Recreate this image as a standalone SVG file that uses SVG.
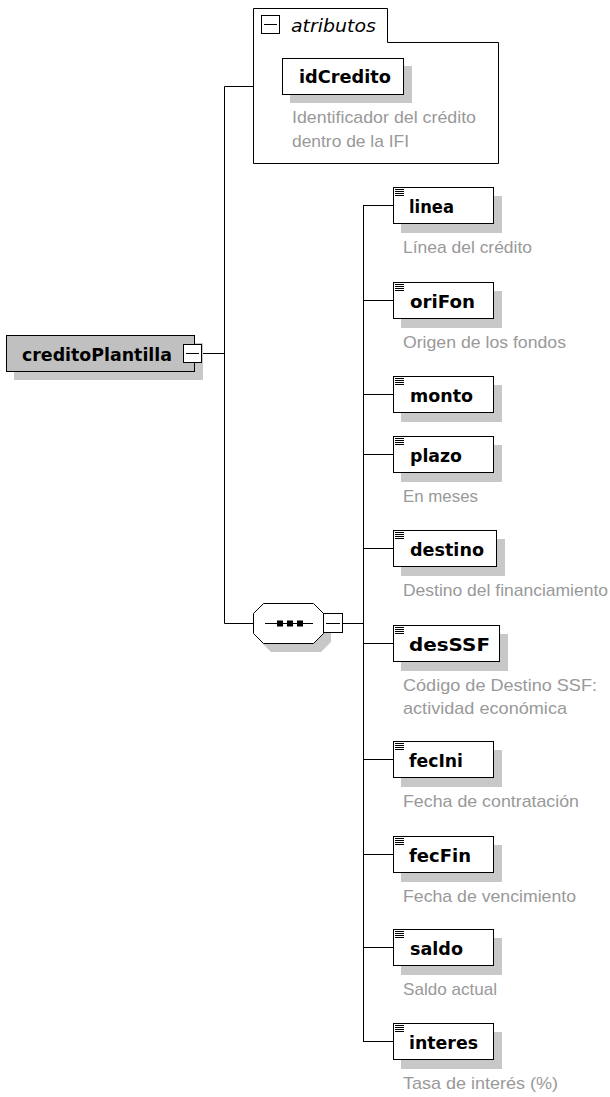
<svg xmlns="http://www.w3.org/2000/svg" width="610" height="1097" viewBox="0 0 610 1097">
<style>
.ln{fill:none;stroke:#000;stroke-width:1}
.lnf{fill:#fff;stroke:#000;stroke-width:1}
.box{fill:#fff;stroke:#000;stroke-width:1}
.sh{fill:#c8c8c8;stroke:none}
.nm{font-family:"DejaVu Sans","Liberation Sans",sans-serif;font-weight:bold;font-size:17px;fill:#000}
.ds{font-family:"Liberation Sans",Arial,sans-serif;font-size:17px;fill:#999}
.ic{stroke:#000;stroke-width:1}
.mb{fill:#fff;stroke:#000;stroke-width:1}
</style>
<defs>
<g id="icon">
<path class="ic" d="M2,2.5H11M2,4.5H11M2,6.5H11M2,8.5H11"/>
</g>
</defs>
<rect width="610" height="1097" fill="#fff"/>
<g id="connectors">
<path class="ln" d="M224.5,86.5V623.5M224.5,86.5H253.5M201,353.5H224.5M224.5,623.5H253.5M343,623.5H363.5M363.5,205V1042"/>
<path class="ln" d="M363.5,205.5H393.5M363.5,300.5H393.5M363.5,394.5H393.5M363.5,454.5H393.5M363.5,548.5H393.5M363.5,643.5H393.5M363.5,759.5H393.5M363.5,854.5H393.5M363.5,947.5H393.5M363.5,1041.5H393.5"/>
</g>
<g id="creditoPlantilla">
<rect class="sh" x="14" y="343" width="189" height="37"/>
<rect x="6.5" y="335.5" width="188" height="36" fill="#c0c0c0" stroke="#000"/>
<text class="nm" x="22" y="361" textLength="150" lengthAdjust="spacingAndGlyphs">creditoPlantilla</text>
<rect class="mb" x="183.5" y="344.5" width="18" height="18"/>
<path class="ln" d="M186,353.5H199"/>
</g>
<g id="atributos">
<path class="lnf" d="M253.5,163.5V8.5H387.5V42.5H498.5V163.5Z"/>
<rect class="mb" x="261.5" y="15.5" width="18" height="18"/>
<path class="ln" d="M264,24.5H277"/>
<text x="291" y="32" font-family="DejaVu Sans,Liberation Sans,sans-serif" font-style="italic" font-size="18" fill="#000" textLength="85" lengthAdjust="spacingAndGlyphs">atributos</text>
</g>
<g id="idCredito">
<rect class="sh" x="290" y="66" width="122" height="37"/>
<rect class="box" x="282.5" y="58.5" width="121" height="36"/>
<text class="nm" x="299" y="83" textLength="92" lengthAdjust="spacingAndGlyphs">idCredito</text>
<text class="ds" x="292" y="123" textLength="184" lengthAdjust="spacingAndGlyphs">Identificador del crédito</text>
<text class="ds" x="292" y="147" textLength="117" lengthAdjust="spacingAndGlyphs">dentro de la IFI</text>
</g>
<g id="sequence">
<path class="sh" d="M271,612H321L331,622V642L321,652H271L261,642V622Z"/>
<path class="lnf" d="M263.5,603.5H313.5L323.5,613.5V633.5L313.5,643.5H263.5L253.5,633.5V613.5Z"/>
<path class="ln" d="M265,623.5H313"/>
<rect x="277" y="620.5" width="6" height="6" fill="#000"/>
<rect x="287" y="620.5" width="6" height="6" fill="#000"/>
<rect x="297" y="620.5" width="6" height="6" fill="#000"/>
<rect class="mb" x="323.5" y="613.5" width="19" height="19"/>
<path class="ln" d="M326,623.5H340"/>
</g>
<g id="linea">
<rect class="sh" x="401" y="196" width="101" height="37"/>
<rect class="box" x="393.5" y="187.5" width="100" height="36"/>
<use href="#icon" x="393" y="187"/>
<text class="nm" x="409" y="213" textLength="45" lengthAdjust="spacingAndGlyphs">linea</text>
<text class="ds" x="403" y="253" textLength="129" lengthAdjust="spacingAndGlyphs">Línea del crédito</text>
</g>
<g id="oriFon">
<rect class="sh" x="401" y="291" width="101" height="37"/>
<rect class="box" x="393.5" y="282.5" width="100" height="36"/>
<use href="#icon" x="393" y="282"/>
<text class="nm" x="410" y="308" textLength="65" lengthAdjust="spacingAndGlyphs">oriFon</text>
<text class="ds" x="403" y="348" textLength="163" lengthAdjust="spacingAndGlyphs">Origen de los fondos</text>
</g>
<g id="monto">
<rect class="sh" x="401" y="385" width="101" height="37"/>
<rect class="box" x="393.5" y="376.5" width="100" height="36"/>
<use href="#icon" x="393" y="376"/>
<text class="nm" x="410" y="402" textLength="63" lengthAdjust="spacingAndGlyphs">monto</text>
</g>
<g id="plazo">
<rect class="sh" x="401" y="445" width="101" height="37"/>
<rect class="box" x="393.5" y="436.5" width="100" height="36"/>
<use href="#icon" x="393" y="436"/>
<text class="nm" x="410" y="462" textLength="52" lengthAdjust="spacingAndGlyphs">plazo</text>
<text class="ds" x="403" y="502" textLength="75" lengthAdjust="spacingAndGlyphs">En meses</text>
</g>
<g id="destino">
<rect class="sh" x="401" y="539" width="104" height="37"/>
<rect class="box" x="393.5" y="530.5" width="103" height="36"/>
<use href="#icon" x="393" y="530"/>
<text class="nm" x="410" y="556" textLength="74" lengthAdjust="spacingAndGlyphs">destino</text>
<text class="ds" x="403" y="596" textLength="205" lengthAdjust="spacingAndGlyphs">Destino del financiamiento</text>
</g>
<g id="desSSF">
<rect class="sh" x="401" y="634" width="107" height="37"/>
<rect class="box" x="393.5" y="625.5" width="106" height="36"/>
<use href="#icon" x="393" y="625"/>
<text class="nm" x="409" y="651" textLength="81" lengthAdjust="spacingAndGlyphs">desSSF</text>
<text class="ds" x="403" y="691" textLength="194" lengthAdjust="spacingAndGlyphs">Código de Destino SSF:</text>
<text class="ds" x="403" y="714" textLength="164" lengthAdjust="spacingAndGlyphs">actividad económica</text>
</g>
<g id="fecIni">
<rect class="sh" x="401" y="750" width="101" height="37"/>
<rect class="box" x="393.5" y="741.5" width="100" height="36"/>
<use href="#icon" x="393" y="741"/>
<text class="nm" x="409" y="767" textLength="54" lengthAdjust="spacingAndGlyphs">fecIni</text>
<text class="ds" x="403" y="807" textLength="176" lengthAdjust="spacingAndGlyphs">Fecha de contratación</text>
</g>
<g id="fecFin">
<rect class="sh" x="401" y="845" width="101" height="37"/>
<rect class="box" x="393.5" y="836.5" width="100" height="36"/>
<use href="#icon" x="393" y="836"/>
<text class="nm" x="409" y="862" textLength="62" lengthAdjust="spacingAndGlyphs">fecFin</text>
<text class="ds" x="403" y="902" textLength="173" lengthAdjust="spacingAndGlyphs">Fecha de vencimiento</text>
</g>
<g id="saldo">
<rect class="sh" x="401" y="938" width="101" height="37"/>
<rect class="box" x="393.5" y="929.5" width="100" height="36"/>
<use href="#icon" x="393" y="929"/>
<text class="nm" x="410" y="955" textLength="53" lengthAdjust="spacingAndGlyphs">saldo</text>
<text class="ds" x="403" y="995" textLength="94" lengthAdjust="spacingAndGlyphs">Saldo actual</text>
</g>
<g id="interes">
<rect class="sh" x="401" y="1032" width="101" height="37"/>
<rect class="box" x="393.5" y="1023.5" width="100" height="36"/>
<use href="#icon" x="393" y="1023"/>
<text class="nm" x="409" y="1049" textLength="69" lengthAdjust="spacingAndGlyphs">interes</text>
<text class="ds" x="403" y="1089" textLength="155" lengthAdjust="spacingAndGlyphs">Tasa de interés (%)</text>
</g>
</svg>
